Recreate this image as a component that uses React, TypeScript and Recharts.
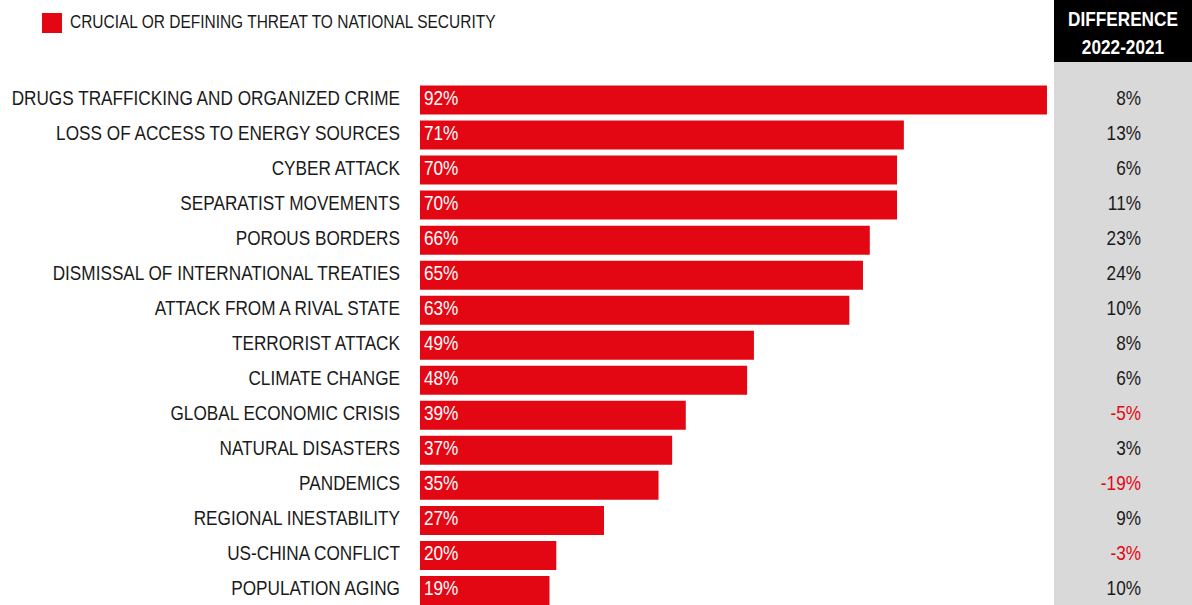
import { BarChart, Bar, XAxis, YAxis, LabelList } from 'recharts';

const categories = [
  'DRUGS TRAFFICKING AND ORGANIZED CRIME',
  'LOSS OF ACCESS TO ENERGY SOURCES',
  'CYBER ATTACK',
  'SEPARATIST MOVEMENTS',
  'POROUS BORDERS',
  'DISMISSAL OF INTERNATIONAL TREATIES',
  'ATTACK FROM A RIVAL STATE',
  'TERRORIST ATTACK',
  'CLIMATE CHANGE',
  'GLOBAL ECONOMIC CRISIS',
  'NATURAL DISASTERS',
  'PANDEMICS',
  'REGIONAL INESTABILITY',
  'US-CHINA CONFLICT',
  'POPULATION AGING',
];
const crucialShare = [92, 71, 70, 70, 66, 65, 63, 49, 48, 39, 37, 35, 27, 20, 19];
const difference = [8, 13, 6, 11, 23, 24, 10, 8, 6, -5, 3, -19, 9, -3, 10];

const seriesName = 'CRUCIAL OR DEFINING THREAT TO NATIONAL SECURITY';
const headerLines = ['DIFFERENCE', '2022-2021'];

const RED = '#e30613';
const INK = '#1a1a1a';
const FONT = "'Liberation Sans', Arial, sans-serif";
// no narrow font installed, so squeeze the regular one
const SQUEEZE = 0.86;

const data = categories.map((c, i) => ({
  category: c,
  value: crucialShare[i],
  diff: difference[i],
}));

const NarrowText = ({ x, y, anchor, color, children }: any) => (
  <text
    transform={`translate(${x},${y - 2}) scale(${SQUEEZE},1)`}
    textAnchor={anchor}
    dominantBaseline="central"
    fontSize={20}
    fill={color}
    fontFamily={FONT}
  >
    {children}
  </text>
);

const CategoryTick = ({ y, payload }: any) => (
  <NarrowText x={400} y={y} anchor="end" color={INK}>{payload.value}</NarrowText>
);

const DiffTick = ({ y, payload }: any) => {
  const d = data.find((r) => r.category === payload.value)?.diff ?? 0;
  return (
    <NarrowText x={1141} y={y} anchor="end" color={d < 0 ? RED : INK}>{d}%</NarrowText>
  );
};

const ValueLabel = ({ x, y, height, value }: any) => (
  <NarrowText x={x + 4} y={y + height / 2} anchor="start" color="#fff">{value}%</NarrowText>
);

export default function App() {
  return (
    <div style={{ position: 'relative', width: 1192, height: 605, overflow: 'hidden', background: '#fff' }}>
      <style>{'body{margin:0;overflow:hidden}'}</style>
      <div style={{ position: 'absolute', left: 1054, top: 62, width: 138, height: 543, background: '#d9d9d9' }} />
      <div
        style={{
          position: 'absolute', left: 1054, top: 0, width: 138, height: 62, background: '#000',
          color: '#fff', fontFamily: FONT, fontWeight: 'bold', fontSize: 20, lineHeight: '28px',
          textAlign: 'center', paddingTop: 5, boxSizing: 'border-box',
        }}
      >
        {headerLines.map((t) => (
          <div key={t} style={{ transform: `scaleX(${SQUEEZE})` }}>{t}</div>
        ))}
      </div>
      <div style={{ position: 'absolute', left: 42, top: 12, display: 'flex', alignItems: 'center', fontFamily: FONT, fontSize: 18, color: INK }}>
        <span style={{ display: 'inline-block', width: 20, height: 20, background: RED, marginRight: 8, flexShrink: 0 }} />
        <span style={{ display: 'inline-block', transform: `scaleX(${SQUEEZE})`, transformOrigin: 'left center', whiteSpace: 'nowrap' }}>
          {seriesName}
        </span>
      </div>
      <div style={{ position: 'absolute', left: 0, top: 0 }}>
        <BarChart
          width={1192}
          height={608}
          data={data}
          layout="vertical"
          margin={{ top: 82.5, right: 0, bottom: 0, left: 0 }}
          barCategoryGap={3}
        >
          <XAxis type="number" domain={[0, 100]} hide />
          <YAxis yAxisId="left" type="category" dataKey="category" width={420} axisLine={false} tickLine={false} tick={<CategoryTick />} interval={0} />
          <YAxis yAxisId="right" orientation="right" type="category" dataKey="category" width={90.5} axisLine={false} tickLine={false} tick={<DiffTick />} interval={0} />
          <Bar yAxisId="left" dataKey="value" fill={RED} isAnimationActive={false}>
            <LabelList dataKey="value" content={<ValueLabel />} />
          </Bar>
        </BarChart>
      </div>
    </div>
  );
}
